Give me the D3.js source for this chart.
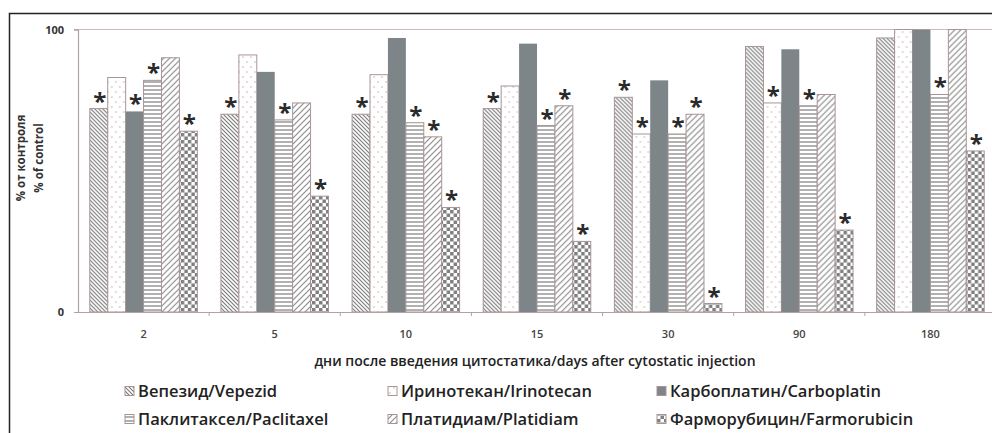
<!DOCTYPE html>
<html>
<head>
<meta charset="utf-8">
<script src="https://cdn.jsdelivr.net/npm/d3@7/dist/d3.min.js"></script>
<style>
  html, body { margin: 0; padding: 0; background: #fff; }
  svg { display: block; }
  text { font-family: "Open Sans", "DejaVu Sans", sans-serif; }
</style>
</head>
<body>
<svg id="chart" width="992" height="433"></svg>
<script>
// Days after injection (x categories)
const days = ["2", "5", "10", "15", "30", "90", "180"];

// Series: % of control per drug
const seriesNames = [
  "Вепезид/Vepezid",
  "Иринотекан/Irinotecan",
  "Карбоплатин/Carboplatin",
  "Паклитаксел/Paclitaxel",
  "Платидиам/Platidiam",
  "Фарморубицин/Farmorubicin"
];
const vepezid      = [72, 70, 70, 72, 76, 94, 97];
const irinotecan   = [83, 91, 84, 80, 63, 74, 100];
const carboplatin  = [71, 85, 97, 95, 82, 93, 100];
const paclitaxel   = [82, 68, 67, 66, 63, 73, 77];
const platidiam    = [90, 74, 62, 73, 70, 77, 100];
const farmorubicin = [64, 41, 37, 25, 3, 29, 57];

// Significance marks (asterisk above bar)
const sigVepezid      = [1, 1, 1, 1, 1, 0, 0];
const sigIrinotecan   = [0, 0, 0, 0, 1, 1, 0];
const sigCarboplatin  = [1, 0, 0, 0, 0, 0, 0];
const sigPaclitaxel   = [1, 1, 1, 1, 1, 1, 1];
const sigPlatidiam    = [0, 0, 1, 1, 1, 0, 0];
const sigFarmorubicin = [1, 1, 1, 1, 1, 1, 1];

const yTicks = [0, 100];
const xTitle = "дни после введения цитостатика/days after cytostatic injection";
const yTitle = ["% от контроля", "% of control"];

const values = [vepezid, irinotecan, carboplatin, paclitaxel, platidiam, farmorubicin];
const sigs = [sigVepezid, sigIrinotecan, sigCarboplatin, sigPaclitaxel, sigPlatidiam, sigFarmorubicin];
const patternIds = ["p-vep", "p-iri", "p-carb", "p-pac", "p-plat", "p-farm"];

const svg = d3.select("#chart");
const defs = svg.append("defs");

// ---- fill patterns ----
function pat(id, w, h) {
  const p = defs.append("pattern").attr("id", id)
    .attr("patternUnits", "userSpaceOnUse").attr("width", w).attr("height", h);
  p.append("rect").attr("width", w).attr("height", h).attr("fill", "#fff");
  return p;
}
// back-diagonal hatch
pat("p-vep", 4, 4).append("path")
  .attr("d", "M-1,-1L5,5M-1,3L1,5M3,-1L5,1")
  .attr("stroke", "#777").attr("stroke-width", 1.1);
// sparse dots
{
  const p = pat("p-iri", 8, 10);
  p.append("circle").attr("cx", 2).attr("cy", 2).attr("r", 0.8).attr("fill", "#c8aeae");
  p.append("circle").attr("cx", 6).attr("cy", 7).attr("r", 0.8).attr("fill", "#c8aeae");
}
// solid
pat("p-carb", 4, 4).append("rect").attr("width", 4).attr("height", 4).attr("fill", "#7d8589");
// horizontal lines
pat("p-pac", 4, 4).append("path")
  .attr("d", "M0,2H4").attr("stroke", "#8f8f8f").attr("stroke-width", 1.4);
// forward diagonal hatch
pat("p-plat", 6, 6).append("path")
  .attr("d", "M-1,7L7,-1M-1,1L1,-1M5,7L7,5")
  .attr("stroke", "#8c8c8c").attr("stroke-width", 1.2);
// checkerboard
{
  const p = pat("p-farm", 7, 7);
  p.append("rect").attr("x", 0).attr("y", 0).attr("width", 3.5).attr("height", 3.5).attr("fill", "#7f7f7f");
  p.append("rect").attr("x", 3.5).attr("y", 3.5).attr("width", 3.5).attr("height", 3.5).attr("fill", "#7f7f7f");
}

// ---- frame ----
svg.append("rect").attr("x", 9.5).attr("y", 13.5).attr("width", 1100).attr("height", 600)
  .attr("fill", "none").attr("stroke", "#222").attr("stroke-width", 1.5);

// ---- scales ----
const x0 = d3.scaleBand().domain(days).range([78, 996]).paddingInner(0.18).paddingOuter(0.09);
const x1 = d3.scaleBand().domain(d3.range(seriesNames.length)).range([0, x0.bandwidth()]);
const y = d3.scaleLinear().domain([0, 100]).range([312, 29.5]);

const axisColor = "#b0a2a0";

// gridline at top tick
svg.append("g").selectAll("line").data(yTicks.filter(t => t > 0)).join("line")
  .attr("x1", 74).attr("x2", 992)
  .attr("y1", d => y(d)).attr("y2", d => y(d))
  .attr("stroke", "#cdb8b8").attr("stroke-width", 1.2);

// y axis
const yAxis = svg.append("g").attr("transform", "translate(78,0)")
  .call(d3.axisLeft(y).tickValues(yTicks).tickSize(4).tickPadding(10));
yAxis.select(".domain").attr("stroke", axisColor).attr("stroke-width", 1.2);
yAxis.selectAll(".tick line").attr("stroke", axisColor);
yAxis.selectAll(".tick text").attr("font-size", 11).attr("font-weight", 700).attr("fill", "#333")
  .attr("font-family", "'Open Sans', sans-serif");

// bars
const groups = svg.append("g").selectAll("g").data(days).join("g")
  .attr("transform", d => `translate(${x0(d)},0)`);

groups.selectAll("rect").data((d, i) => values.map((s, k) => ({ k, v: s[i], sig: sigs[k][i] })))
  .join("rect")
  .attr("x", d => x1(d.k))
  .attr("y", d => y(d.v))
  .attr("width", x1.bandwidth())
  .attr("height", d => y(0) - y(d.v))
  .attr("fill", d => `url(#${patternIds[d.k]})`)
  .attr("stroke", d => d.k === 2 ? "none" : "#a89494")
  .attr("stroke-width", 1);

// significance asterisks
groups.selectAll("text.sig")
  .data((d, i) => values.map((s, k) => ({ k, v: s[i], sig: sigs[k][i] })).filter(d => d.sig))
  .join("text").attr("class", "sig")
  .attr("x", d => x1(d.k) + x1.bandwidth() / 2 + 1)
  .attr("y", d => y(d.v) + 1)
  .attr("text-anchor", "middle")
  .attr("font-family", "'DejaVu Sans', sans-serif")
  .attr("font-weight", 700)
  .attr("font-size", 24)
  .attr("fill", "#2a2a2a")
  .text("*");

// x axis
const xAxis = svg.append("g").attr("transform", `translate(0,${y(0)})`)
  .call(d3.axisBottom(x0).tickSize(0).tickPadding(18));
xAxis.select(".domain").attr("stroke", axisColor).attr("stroke-width", 1.2);
xAxis.selectAll(".tick text").attr("font-size", 11).attr("font-weight", 600).attr("fill", "#444");

// category boundary ticks
const step = x0.step();
svg.append("g").selectAll("line").data(days.slice(1)).join("line")
  .attr("x1", d => x0(d) - step * x0.paddingInner() / 2)
  .attr("x2", d => x0(d) - step * x0.paddingInner() / 2)
  .attr("y1", y(0)).attr("y2", y(0) + 4)
  .attr("stroke", axisColor);

// axis titles
svg.append("text").attr("x", 535).attr("y", 366)
  .attr("text-anchor", "middle").attr("font-size", 14).attr("font-weight", 600).attr("fill", "#222")
  .text(xTitle);

yTitle.forEach((t, i) => {
  svg.append("text")
    .attr("transform", `translate(${25 + i * 18},158) rotate(-90)`)
    .attr("text-anchor", "middle").attr("font-size", 11.5).attr("font-weight", 700).attr("fill", "#333")
    .text(t);
});

// legend
const legendX = [125, 388, 657];
const legendY = [391, 419];
const legend = svg.append("g").selectAll("g").data(seriesNames).join("g")
  .attr("transform", (d, i) => `translate(${legendX[i % 3]},${legendY[Math.floor(i / 3)]})`);
legend.append("rect").attr("x", 0).attr("y", -4.5).attr("width", 9).attr("height", 9)
  .attr("fill", (d, i) => `url(#${patternIds[i]})`)
  .attr("stroke", "#a89494").attr("stroke-width", 1);
legend.append("text").attr("x", 13).attr("y", 0).attr("dy", "0.35em")
  .attr("font-size", 16.5).attr("font-weight", 600).attr("fill", "#222")
  .text(d => d);
</script>
</body>
</html>
